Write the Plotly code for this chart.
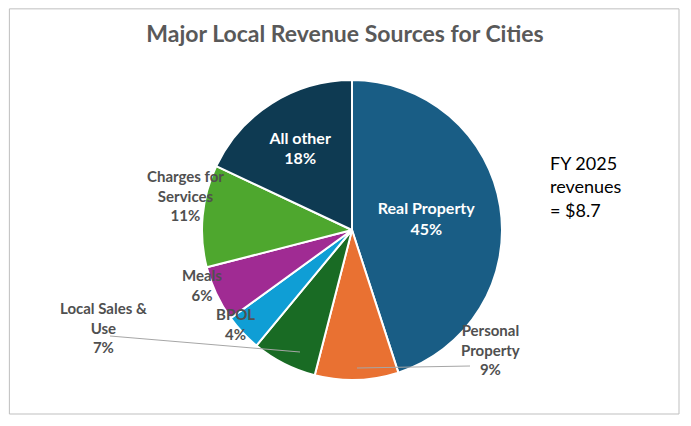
import plotly.graph_objects as go

labels = ["Real Property", "Personal Property", "Local Sales & Use", "BPOL",
          "Meals", "Charges for Services", "All other"]
values = [45, 9, 7, 4, 6, 11, 18]
colors = ["#195d85", "#e97132", "#196b24", "#0f9ed5", "#a02b93", "#4ea72e", "#0e3a52"]
inside_text = ["Real Property<br>45%", "", "", "", "", "", "All other<br>18%"]

W, H = 691, 426
DX, DY = 8, 8  # page offset correction


def px(x):
    return (x - DX) / W


def py(y):
    return 1 - (y - DY) / H


fig = go.Figure(go.Pie(
    labels=labels, values=values, sort=False, direction="clockwise", rotation=0,
    marker=dict(colors=colors, line=dict(color="white", width=2)),
    text=inside_text, textinfo="text", textposition="inside", insidetextorientation="horizontal",
    textfont=dict(family="Lato", size=16, color="white", weight="bold"),
    domain=dict(x=[px(202), px(502)], y=[py(380), py(80)]),
    hoverinfo="label+percent", showlegend=False,
))

outside = [
    ("Personal<br>Property<br>9%", 522, 380),
    ("Local Sales &<br>Use<br>7%", 58, 358),
    ("BPOL<br>4%", 214, 345),
    ("Meals<br>6%", 180, 285),
    ("Charges for<br>Services<br>11%", 145, 195),
]
for txt, x_, y_ in outside:
    fig.add_annotation(x=px(x_), y=py(y_), xref="paper", yref="paper", text=txt,
                       showarrow=False, align="center",
                       font=dict(family="Lato", size=15, color="#505050", weight="bold"))

# leader lines
for x0, y0, x1, y1 in [(470, 366, 357, 368), (110, 336, 300, 352)]:
    fig.add_shape(type="line", xref="paper", yref="paper",
                  x0=px(x0), y0=py(y0), x1=px(x1), y1=py(y1),
                  line=dict(color="#a6a6a6", width=1))

fig.add_annotation(x=px(548), y=py(150), xref="paper", yref="paper",
                   text="FY 2025<br>revenues<br>= $8.7", showarrow=False, align="left",
                   xanchor="left", font=dict(family="Lato", size=18, color="#000000"))

fig.add_shape(type="rect", xref="paper", yref="paper", x0=0.002, y0=1 - (H - 20) / H,
              x1=(W - 20) / W, y1=0.998, line=dict(color="#bfbfbf", width=1))

fig.update_layout(
    width=W, height=H, margin=dict(l=0, r=0, t=0, b=0),
    title=dict(text="Major Local Revenue Sources for Cities", x=px(345), xanchor="center",
               y=py(34), yanchor="middle",
               font=dict(family="Lato", size=23, color="#595959", weight="bold")),
    paper_bgcolor="white", plot_bgcolor="white",
)

fig.write_html("out.html")
